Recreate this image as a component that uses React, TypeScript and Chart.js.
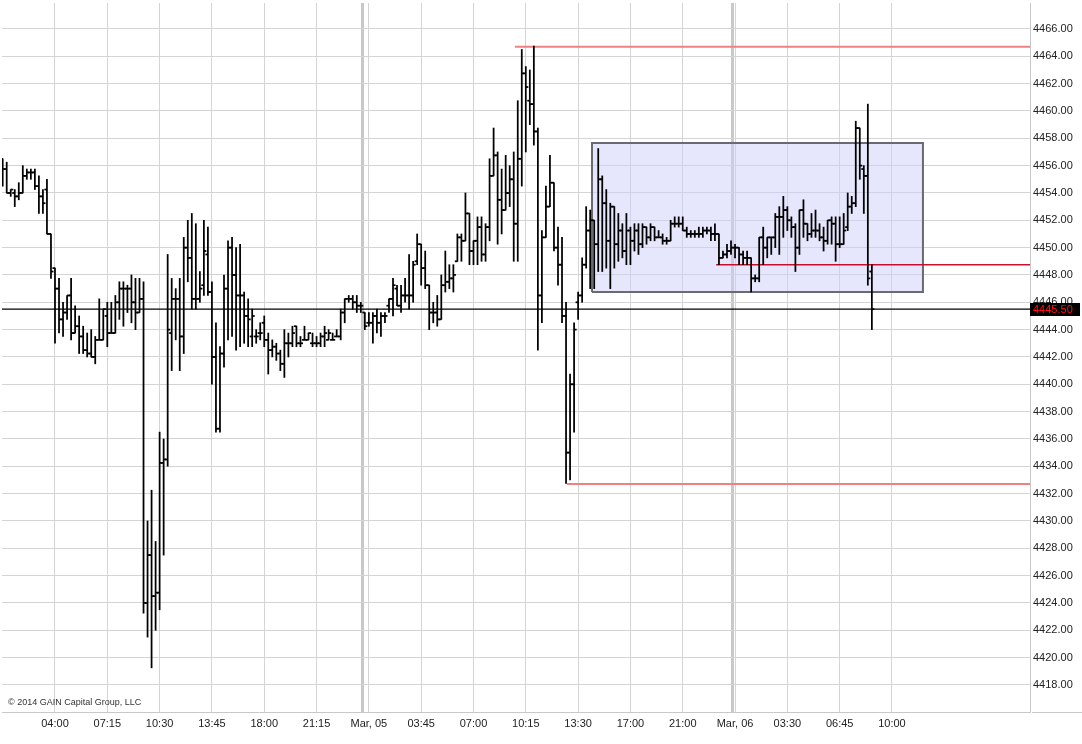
import React, { useEffect, useRef } from "react";
import { Chart, registerables } from "chart.js";

Chart.register(...registerables);

// ---- OHLC data (15-minute bars, index = bar number) ----
const opens = [
  4456.5, 4455.75, 4454.0, 4454.0, 4453.75, 4454.0, 4455.25, 4455.5, 4455.5, 4454.5,
  4453.75, 4454.25, 4451.0, 4448.5, 4447.0, 4444.75, 4445.25, 4446.5, 4443.75, 4444.25,
  4443.5, 4442.5, 4442.25, 4442.0, 4443.25, 4443.25, 4445.0, 4443.75, 4443.75, 4446.0,
  4447.0, 4447.0, 4447.0, 4446.0, 4445.25, 4446.25, 4424.0, 4427.5, 4424.5, 4424.75,
  4434.25, 4434.5, 4443.75, 4446.25, 4446.25, 4443.5, 4450.0, 4449.25, 4446.25, 4446.25,
  4447.25, 4449.5, 4446.75, 4442.0, 4436.75, 4442.25, 4447.0, 4450.0, 4448.0, 4446.5,
  4446.5, 4445.0, 4443.5, 4443.5, 4443.75, 4444.5, 4443.25, 4442.5, 4442.75, 4442.25,
  4441.5, 4443.0, 4443.0, 4444.25, 4443.0, 4443.25, 4443.25, 4443.0, 4443.0, 4443.0,
  4443.5, 4443.25, 4443.25, 4443.5, 4443.5, 4445.25, 4446.25, 4446.25, 4446.0, 4445.75,
  4445.25, 4444.5, 4444.5, 4445.0, 4444.5, 4445.0, 4445.75, 4446.25, 4447.0, 4445.75,
  4446.5, 4446.5, 4446.5, 4449.0, 4450.25, 4448.5, 4447.25, 4445.25, 4445.25, 4444.75,
  4447.25, 4447.5, 4447.75, 4449.0, 4450.75, 4450.5, 4452.5, 4449.75, 4450.5, 4451.5,
  4449.5, 4451.5, 4455.25, 4456.75, 4453.5, 4452.75, 4454.0, 4455.0, 4451.75, 4456.5,
  4462.75, 4460.75, 4460.5, 4458.5, 4446.5, 4450.75, 4453.0, 4454.75, 4450.0, 4448.75,
  4445.0, 4435.0, 4440.0, 4446.0, 4446.5, 4448.75, 4451.25, 4452.0, 4450.25, 4455.0,
  4453.25, 4450.5, 4453.0, 4450.25, 4451.25, 4449.75, 4451.25, 4450.5, 4451.25, 4450.25,
  4451.5, 4450.75, 4451.5, 4450.75, 4450.75, 4450.5, 4450.5, 4451.75, 4451.75, 4451.75,
  4451.25, 4451.0, 4451.0, 4451.0, 4451.0, 4451.25, 4451.25, 4451.0, 4451.0, 4449.25,
  4449.5, 4449.75, 4450.0, 4450.0, 4449.5, 4449.25, 4449.25, 4447.75, 4447.75, 4450.75,
  4450.0, 4450.75, 4450.75, 4452.25, 4452.25, 4452.75, 4452.0, 4451.5, 4450.0, 4452.75,
  4451.75, 4451.0, 4451.25, 4451.25, 4450.75, 4450.5, 4452.0, 4451.75, 4450.25, 4450.25,
  4451.5, 4453.0, 4453.25, 4458.75, 4455.75, 4455.25, 4448.25,
];

const highs = [
  4456.5, 4456.25, 4454.25, 4454.25, 4454.75, 4456.0, 4455.75, 4455.75, 4455.75, 4455.25,
  4454.25, 4455.0, 4451.0, 4448.5, 4447.75, 4446.0, 4446.5, 4447.75, 4445.75, 4445.0,
  4444.25, 4443.75, 4444.0, 4443.5, 4446.25, 4445.5, 4446.0, 4446.0, 4446.5, 4447.5,
  4447.5, 4447.25, 4448.0, 4447.75, 4447.75, 4447.5, 4430.0, 4432.25, 4428.5, 4436.5,
  4436.0, 4449.5, 4447.75, 4447.0, 4447.75, 4450.75, 4452.0, 4452.5, 4451.75, 4448.25,
  4452.0, 4451.5, 4447.5, 4444.5, 4442.75, 4448.0, 4450.5, 4450.75, 4450.0, 4450.25,
  4446.75, 4446.25, 4445.5, 4444.0, 4444.5, 4445.0, 4443.75, 4443.25, 4443.0, 4442.5,
  4444.0, 4443.75, 4444.25, 4444.25, 4443.5, 4444.25, 4443.75, 4443.75, 4443.5, 4443.75,
  4444.25, 4444.0, 4443.75, 4444.0, 4445.5, 4446.25, 4446.5, 4446.5, 4446.5, 4446.0,
  4445.25, 4445.25, 4445.25, 4445.5, 4445.25, 4445.25, 4446.25, 4447.75, 4447.25, 4447.25,
  4447.75, 4449.5, 4449.0, 4451.0, 4450.25, 4449.75, 4447.25, 4446.0, 4446.5, 4448.0,
  4449.75, 4448.75, 4448.75, 4451.0, 4451.0, 4454.0, 4452.5, 4450.5, 4452.25, 4452.25,
  4451.75, 4456.5, 4458.75, 4457.0, 4455.75, 4456.75, 4456.0, 4457.0, 4460.75, 4464.5,
  4463.25, 4463.0, 4464.75, 4458.75, 4451.25, 4454.5, 4456.75, 4454.75, 4451.5, 4450.75,
  4446.0, 4440.75, 4444.5, 4446.75, 4449.25, 4453.0, 4452.75, 4452.0, 4457.25, 4455.25,
  4454.25, 4453.25, 4453.0, 4452.5, 4451.75, 4452.5, 4451.5, 4451.75, 4451.75, 4451.75,
  4451.5, 4451.75, 4451.5, 4451.25, 4451.0, 4450.75, 4452.0, 4452.25, 4452.25, 4452.25,
  4451.5, 4451.25, 4451.25, 4451.5, 4451.5, 4451.5, 4451.5, 4451.75, 4451.0, 4449.75,
  4450.25, 4450.5, 4450.25, 4450.0, 4449.75, 4449.75, 4449.25, 4448.0, 4450.75, 4451.5,
  4450.75, 4450.75, 4452.5, 4453.0, 4453.75, 4453.0, 4452.25, 4451.75, 4452.75, 4453.5,
  4451.75, 4452.5, 4452.75, 4451.75, 4451.5, 4452.0, 4452.25, 4452.25, 4452.25, 4452.5,
  4454.0, 4453.75, 4459.25, 4458.75, 4456.0, 4460.5, 4448.75,
];

const lows = [
  4454.5, 4454.0, 4453.75, 4453.0, 4453.5, 4454.0, 4455.0, 4455.0, 4454.25, 4452.5,
  4452.5, 4451.0, 4447.75, 4443.0, 4443.75, 4443.5, 4444.75, 4443.25, 4443.75, 4442.25,
  4442.25, 4442.0, 4442.0, 4441.5, 4443.25, 4443.25, 4442.75, 4443.75, 4443.75, 4444.75,
  4444.25, 4445.25, 4444.5, 4444.0, 4445.25, 4423.25, 4421.5, 4419.25, 4422.0, 4423.5,
  4427.5, 4434.0, 4441.0, 4443.25, 4441.0, 4442.25, 4447.5, 4445.5, 4445.5, 4446.0,
  4446.5, 4446.5, 4440.0, 4436.5, 4436.5, 4441.25, 4443.25, 4443.5, 4442.5, 4442.75,
  4443.0, 4442.75, 4442.75, 4443.0, 4443.25, 4442.75, 4440.75, 4442.0, 4441.75, 4441.0,
  4440.5, 4442.0, 4442.75, 4442.75, 4442.75, 4443.25, 4443.25, 4442.75, 4442.75, 4442.75,
  4442.75, 4443.25, 4443.25, 4443.5, 4443.25, 4444.5, 4446.0, 4445.5, 4445.25, 4445.25,
  4444.0, 4444.25, 4443.0, 4443.75, 4443.5, 4444.5, 4445.25, 4445.0, 4445.75, 4445.25,
  4446.0, 4445.5, 4446.0, 4448.75, 4447.25, 4447.0, 4444.0, 4444.5, 4444.25, 4444.75,
  4446.75, 4447.0, 4446.75, 4449.0, 4449.0, 4450.5, 4448.75, 4448.75, 4448.75, 4449.0,
  4449.0, 4450.5, 4455.25, 4450.25, 4451.0, 4452.75, 4453.0, 4449.0, 4449.0, 4454.5,
  4457.0, 4459.0, 4457.5, 4442.5, 4444.5, 4450.75, 4453.0, 4449.75, 4447.25, 4444.5,
  4432.75, 4433.0, 4436.5, 4444.75, 4446.0, 4448.5, 4447.0, 4447.0, 4448.25, 4448.25,
  4448.5, 4447.0, 4448.5, 4449.0, 4449.25, 4448.75, 4448.75, 4449.75, 4449.5, 4450.0,
  4450.25, 4450.5, 4450.5, 4450.75, 4450.25, 4450.25, 4450.5, 4451.5, 4451.5, 4451.25,
  4450.75, 4450.75, 4450.75, 4450.75, 4450.75, 4451.0, 4450.5, 4450.5, 4448.75, 4449.25,
  4449.25, 4449.5, 4449.25, 4448.75, 4448.75, 4448.75, 4446.75, 4447.5, 4447.5, 4448.75,
  4449.25, 4449.5, 4450.0, 4449.5, 4450.75, 4451.25, 4450.75, 4448.25, 4449.5, 4450.75,
  4450.5, 4450.75, 4450.75, 4450.5, 4449.75, 4450.25, 4450.25, 4449.0, 4450.0, 4450.25,
  4451.25, 4452.5, 4453.0, 4455.0, 4452.5, 4447.25, 4444.0,
];

const closes = [
  4455.75, 4454.0, 4454.25, 4453.75, 4454.0, 4455.25, 4455.5, 4455.5, 4454.5, 4453.75,
  4453.25, 4451.0, 4448.25, 4447.0, 4444.75, 4445.25, 4446.5, 4443.75, 4444.25, 4443.5,
  4442.5, 4442.25, 4442.0, 4443.25, 4443.25, 4445.5, 4443.75, 4443.75, 4446.0, 4447.0,
  4447.0, 4447.0, 4446.0, 4445.25, 4446.25, 4424.0, 4427.5, 4424.5, 4424.75, 4434.25,
  4434.5, 4444.0, 4446.25, 4446.25, 4443.5, 4450.0, 4449.25, 4446.25, 4446.25, 4447.0,
  4449.75, 4446.75, 4442.0, 4436.75, 4442.25, 4447.0, 4450.0, 4448.0, 4446.5, 4446.5,
  4445.0, 4444.75, 4445.0, 4443.5, 4443.75, 4443.25, 4442.5, 4442.75, 4442.25, 4441.5,
  4443.0, 4443.0, 4443.75, 4443.0, 4443.0, 4443.25, 4443.75, 4443.0, 4443.0, 4443.5,
  4443.75, 4443.75, 4443.25, 4443.5, 4445.25, 4446.25, 4446.25, 4446.0, 4445.75, 4445.75,
  4444.25, 4444.5, 4445.0, 4444.5, 4445.0, 4445.0, 4446.25, 4447.25, 4445.75, 4446.5,
  4446.5, 4446.5, 4448.75, 4450.25, 4448.5, 4447.25, 4445.25, 4445.25, 4444.75, 4447.25,
  4447.5, 4447.75, 4448.0, 4450.75, 4450.5, 4452.5, 4449.75, 4450.5, 4451.5, 4449.5,
  4451.5, 4455.25, 4456.75, 4453.5, 4452.75, 4454.0, 4455.0, 4451.75, 4456.5, 4462.75,
  4461.75, 4460.5, 4458.5, 4446.5, 4450.75, 4453.0, 4454.75, 4450.0, 4448.75, 4445.0,
  4435.0, 4440.0, 4444.0, 4446.5, 4448.75, 4451.25, 4452.0, 4450.25, 4455.0, 4453.25,
  4450.5, 4453.0, 4450.25, 4451.25, 4449.75, 4451.25, 4450.5, 4451.25, 4450.25, 4451.5,
  4450.75, 4451.5, 4450.75, 4450.75, 4450.5, 4450.5, 4451.75, 4451.75, 4451.75, 4451.25,
  4451.0, 4451.0, 4451.0, 4451.0, 4451.25, 4451.25, 4451.0, 4451.0, 4449.25, 4449.5,
  4449.75, 4450.0, 4450.0, 4449.5, 4449.25, 4449.25, 4447.75, 4447.75, 4450.75, 4450.0,
  4450.75, 4450.75, 4452.25, 4452.25, 4452.75, 4452.0, 4451.5, 4450.0, 4452.75, 4451.75,
  4451.0, 4451.25, 4451.25, 4450.75, 4450.5, 4452.0, 4451.75, 4450.25, 4450.25, 4451.25,
  4453.0, 4453.25, 4458.75, 4456.0, 4455.25, 4447.75, 4445.5,
];

// ---- axis ticks ----
const xTickIndex = [13, 26, 39, 52, 65, 78, 91, 104, 117, 130, 143, 156, 169, 182, 195, 208, 221];
const xTickLabels = [
  "04:00", "07:15", "10:30", "13:45", "18:00", "21:15", "Mar, 05", "03:45", "07:00",
  "10:15", "13:30", "17:00", "21:00", "Mar, 06", "03:30", "06:45", "10:00",
];
const daySeparators = [89.4, 181.3];
const yTickValues = [
  4418, 4420, 4422, 4424, 4426, 4428, 4430, 4432, 4434, 4436, 4438, 4440, 4442,
  4444, 4446, 4448, 4450, 4452, 4454, 4456, 4458, 4460, 4462, 4464, 4466,
];

// ---- drawn annotations (data space) ----
const levelStarts = [127.3, 140.2, 177.3];
const levelValues = [4464.7, 4432.7, 4448.75];
const levelColors = ["#ee8282", "#ee8282", "#c8102e"];
const boxX = [146.45, 228.7];
const boxY = [4446.75, 4457.65];
const lastPrice = 4445.5;

const X_MIN = -0.17;
const X_MAX = 255.3;
const Y_MIN = 4416.02;
const Y_MAX = 4467.9;

const FONT = '"Liberation Sans", Arial, sans-serif';

export default function App() {
  const canvasRef = useRef<HTMLCanvasElement | null>(null);

  useEffect(() => {
    document.body.style.margin = "0";
    const canvas = canvasRef.current;
    if (!canvas) return;

    const idx = opens.map((_, i) => i);
    const tickH = 0.04;

    const overlay = {
      id: "overlay",
      afterDraw(chart: any) {
        const { ctx, chartArea, scales } = chart;
        ctx.save();
        // axis baseline continuing under the price labels
        ctx.strokeStyle = "#c8c8c8";
        ctx.lineWidth = 1;
        ctx.beginPath();
        ctx.moveTo(chartArea.right + 2, Math.round(chartArea.bottom) + 0.5);
        ctx.lineTo(chart.width, Math.round(chartArea.bottom) + 0.5);
        ctx.stroke();
        ctx.font = `9px ${FONT}`;
        ctx.fillStyle = "#333";
        ctx.textBaseline = "middle";
        ctx.textAlign = "left";
        ctx.fillText("© 2014 GAIN Capital Group, LLC", chartArea.left + 6, chartArea.bottom - 9);
        const y = scales.y.getPixelForValue(lastPrice);
        ctx.fillStyle = "#000";
        ctx.fillRect(chartArea.right, Math.round(y) - 6, 50, 13);
        ctx.fillStyle = "#ff1010";
        ctx.font = `11px ${FONT}`;
        ctx.fillText(lastPrice.toFixed(2), chartArea.right + 3, Math.round(y) + 0.5);
        ctx.restore();
      },
    };

    const levelSets = levelStarts.map((s, k) => ({
      type: "line" as const,
      data: [
        { x: s, y: levelValues[k] },
        { x: X_MAX, y: levelValues[k] },
      ],
      borderColor: levelColors[k],
      borderWidth: k === 2 ? 1.5 : 2,
      pointRadius: 0,
      fill: false,
      order: 5,
    }));

    const chart = new Chart(canvas, {
      type: "bar",
      data: {
        datasets: [
          {
            type: "bar",
            data: idx.map((i) => ({ x: i, y: [Math.min(lows[i], opens[i], closes[i]), Math.max(highs[i], opens[i], closes[i])] })),
            backgroundColor: "#000",
            borderWidth: 0,
            barThickness: 1.1,
            grouped: false,
            order: 0,
          } as any,
          {
            type: "bar",
            data: idx.map((i) => ({ x: i - 0.3, y: [opens[i] - tickH, opens[i] + tickH] })),
            backgroundColor: "#000",
            borderWidth: 0,
            barThickness: 2,
            grouped: false,
            order: 0,
          } as any,
          {
            type: "bar",
            data: idx.map((i) => ({ x: i + 0.3, y: [closes[i] - tickH, closes[i] + tickH] })),
            backgroundColor: "#000",
            borderWidth: 0,
            barThickness: 2,
            grouped: false,
            order: 0,
          } as any,
          {
            type: "line",
            data: [
              { x: X_MIN, y: lastPrice },
              { x: X_MAX, y: lastPrice },
            ],
            borderColor: "#000",
            borderWidth: 1.2,
            pointRadius: 0,
            fill: false,
            order: 4,
          } as any,
          ...(levelSets as any[]),
          {
            type: "line",
            data: [
              { x: boxX[0], y: boxY[0] },
              { x: boxX[0], y: boxY[1] },
              { x: boxX[1], y: boxY[1] },
              { x: boxX[1], y: boxY[0] },
              { x: boxX[0], y: boxY[0] },
            ],
            borderColor: "#6a6a72",
            borderWidth: 2,
            pointRadius: 0,
            fill: false,
            order: 8,
          } as any,
          {
            type: "line",
            data: [
              { x: boxX[0], y: boxY[1] },
              { x: boxX[1], y: boxY[1] },
            ],
            borderWidth: 0,
            borderColor: "rgba(0,0,0,0)",
            backgroundColor: "rgba(205,205,252,0.5)",
            pointRadius: 0,
            fill: { value: boxY[0] },
            order: 10,
          } as any,
        ],
      },
      options: {
        responsive: false,
        animation: false,
        devicePixelRatio: 1,
        layout: { padding: { top: 3, left: 2, right: 0, bottom: 0 } },
        plugins: {
          legend: { display: false },
          tooltip: { enabled: false },
        },
        events: [],
        scales: {
          x: {
            type: "linear",
            min: X_MIN,
            max: X_MAX,
            bounds: "data",
            offset: false,
            afterBuildTicks: (scale: any) => {
              scale.ticks = [...xTickIndex, ...daySeparators]
                .sort((a, b) => a - b)
                .map((v) => ({ value: v }));
            },
            afterFit: (scale: any) => {
              scale.height = 32;
              scale.paddingLeft = 0;
              scale.paddingRight = 0;
            },
            ticks: {
              autoSkip: false,
              maxRotation: 0,
              padding: 5,
              color: "#222",
              font: { family: FONT, size: 11 },
              callback: (value: any) => {
                const k = xTickIndex.indexOf(Number(value));
                return k >= 0 ? xTickLabels[k] : "";
              },
            },
            grid: {
              offset: false,
              drawTicks: false,
              color: (ctx: any) =>
                ctx.tick && daySeparators.includes(ctx.tick.value) ? "#c8c8c8" : "#d4d4d4",
              lineWidth: (ctx: any) =>
                ctx.tick && daySeparators.includes(ctx.tick.value) ? 3 : 1,
            },
            border: { display: true, color: "#c8c8c8", width: 1 },
          },
          y: {
            type: "linear",
            position: "right",
            min: Y_MIN,
            max: Y_MAX,
            bounds: "data",
            afterBuildTicks: (scale: any) => {
              scale.ticks = yTickValues.map((v) => ({ value: v }));
            },
            afterFit: (scale: any) => {
              scale.width = 52;
              scale.paddingTop = 0;
              scale.paddingBottom = 0;
            },
            ticks: {
              padding: 3,
              color: "#222",
              font: { family: FONT, size: 11 },
              callback: (value: any) => Number(value).toFixed(2),
            },
            grid: {
              drawTicks: false,
              color: "#d4d4d4",
              lineWidth: 1,
            },
            border: { display: true, color: "#c8c8c8", width: 1 },
          },
        },
      } as any,
      plugins: [overlay],
    });

    return () => {
      chart.destroy();
    };
  }, []);

  return (
    <div style={{ width: 1082, height: 744, position: "relative", background: "#fff" }}>
      <canvas ref={canvasRef} width={1082} height={744} style={{ display: "block" }} />
    </div>
  );
}
